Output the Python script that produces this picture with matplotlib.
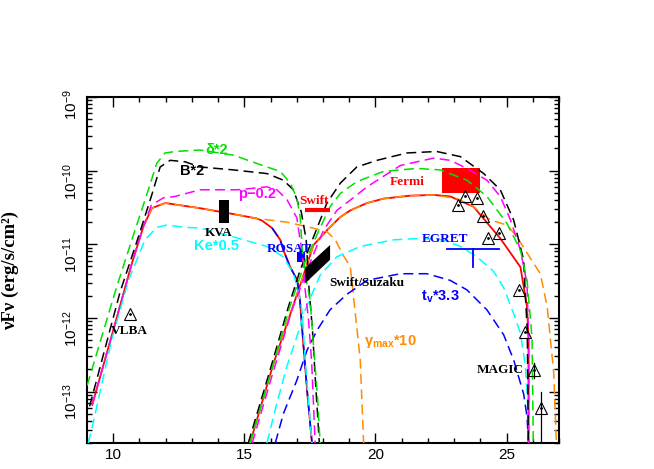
import matplotlib.pyplot as plt
from matplotlib.ticker import MultipleLocator, FixedLocator, LogLocator, NullFormatter
from matplotlib.patches import Rectangle, Polygon

plt.rcParams['font.family'] = ['Liberation Sans', 'DejaVu Sans']
plt.rcParams['mathtext.fontset'] = 'custom'
plt.rcParams['mathtext.rm'] = 'Liberation Sans'
plt.rcParams['mathtext.bf'] = 'Liberation Sans:bold'

# model curves, (log nu, log nuFnu)
red_sync = [(9.20, -13.18), (10.00, -12.17), (10.71, -11.26), (11.15, -10.76), (11.47, -10.51),
            (11.98, -10.44), (13.31, -10.51), (14.58, -10.59), (15.48, -10.65), (15.68, -10.68),
            (16.06, -10.78), (16.37, -10.94), (16.49, -11.08), (16.75, -11.31), (17.02, -11.49),
            (17.12, -11.76), (17.26, -12.40), (17.41, -13.05), (17.58, -13.70)]
red_ssc = [(15.22, -13.70), (16.11, -12.62), (17.19, -11.49), (17.64, -11.01), (18.15, -10.81),
           (18.66, -10.63), (19.04, -10.54), (19.68, -10.44), (20.31, -10.38), (21.33, -10.34),
           (22.22, -10.33), (22.85, -10.35), (23.74, -10.49), (24.76, -10.92), (25.53, -11.31),
           (25.78, -11.85), (25.84, -12.30), (25.84, -13.70)]

orange_sync = red_sync[:9] + [(16.62, -10.70), (17.51, -10.77), (18.15, -10.83), (18.47, -10.94),
                              (18.77, -11.15), (19.04, -11.30), (19.16, -11.70), (19.42, -12.57),
                              (19.55, -13.70)]
orange_ssc = red_ssc[:11] + [(23.11, -10.38), (23.73, -10.49), (24.38, -10.67), (25.02, -10.74),
                             (25.40, -10.90), (25.91, -11.19), (26.29, -11.40), (26.55, -11.85),
                             (26.80, -12.75), (26.90, -13.70)]

blue_sync = red_sync[10:]
blue_ssc = [(16.18, -13.70), (16.49, -13.30), (17.00, -12.85), (17.39, -12.44), (17.77, -12.17),
            (18.27, -11.89), (18.91, -11.68), (19.68, -11.49), (20.95, -11.40), (21.96, -11.40),
            (22.85, -11.49), (23.49, -11.62), (24.25, -11.89), (24.89, -12.23), (25.27, -12.57),
            (25.65, -13.03), (25.78, -13.34), (25.84, -13.70)]

cyan_sync = [(9.05, -13.70), (9.20, -13.48), (9.94, -12.30), (10.58, -11.49), (11.21, -10.94),
             (11.66, -10.77), (12.04, -10.74), (12.74, -10.77), (13.31, -10.78), (14.58, -10.90),
             (15.86, -11.03), (16.49, -11.17), (16.87, -11.40), (17.06, -11.62), (17.21, -11.93),
             (17.32, -12.57), (17.58, -13.70)]
cyan_ssc = [(15.86, -13.70), (16.24, -13.16), (16.62, -12.66), (17.00, -12.26), (17.32, -11.89),
            (17.89, -11.42), (18.53, -11.17), (19.42, -11.03), (20.69, -10.94), (21.71, -10.92),
            (22.60, -10.94), (23.24, -11.03), (23.87, -11.17), (24.51, -11.37), (24.89, -11.59),
            (25.27, -11.94), (25.53, -12.21), (25.72, -12.66), (25.81, -13.21), (25.84, -13.70)]

magenta_sync = red_sync[:4] + [(11.45, -10.47), (11.91, -10.37), (12.36, -10.35), (13.31, -10.26),
                               (14.76, -10.26), (15.86, -10.22), (16.24, -10.26), (16.62, -10.39),
                               (17.00, -10.64), (17.19, -11.08), (17.32, -11.62), (17.45, -12.03),
                               (17.57, -12.61), (17.70, -13.70)]
magenta_ssc = [(15.30, -13.70), (16.06, -12.78), (16.82, -11.89), (17.32, -11.42), (17.70, -11.08),
               (18.02, -10.81), (18.53, -10.54), (19.04, -10.40), (19.68, -10.22), (20.95, -9.93),
               (22.22, -9.83), (22.85, -9.86), (23.49, -9.97), (24.25, -10.13), (24.76, -10.35),
               (25.15, -10.67), (25.53, -11.08), (25.78, -11.53), (25.84, -12.30), (25.84, -13.70)]

black_sync = [(9.10, -13.20), (9.43, -12.76), (10.26, -11.65), (10.96, -10.90), (11.47, -10.33),
              (11.79, -9.95), (12.17, -9.86), (12.74, -9.88), (13.31, -9.95), (14.58, -9.99),
              (15.86, -10.04), (16.49, -10.13), (16.87, -10.26), (17.17, -10.56), (17.36, -10.94),
              (17.47, -11.62), (17.60, -12.17), (17.71, -12.85), (17.86, -13.70)]
black_ssc = [(15.15, -13.70), (15.98, -12.71), (16.68, -11.85), (17.13, -11.35), (17.64, -10.90),
             (18.15, -10.44), (18.66, -10.17), (19.29, -9.95), (20.06, -9.86), (21.20, -9.76),
             (22.34, -9.74), (23.24, -9.81), (24.13, -10.04), (24.76, -10.26), (25.27, -10.67),
             (25.65, -11.21), (25.72, -11.71), (25.79, -12.17), (25.83, -13.70)]

green_sync = [(9.00, -12.92), (9.18, -12.71), (10.13, -11.58), (10.83, -10.81), (11.34, -10.26),
              (11.66, -9.90), (11.98, -9.76), (12.36, -9.74), (13.31, -9.72), (14.58, -9.79),
              (15.86, -9.95), (16.37, -10.01), (16.75, -10.17), (17.00, -10.37), (17.13, -10.63),
              (17.21, -11.08), (17.36, -11.49), (17.51, -11.76), (17.64, -12.39), (17.79, -13.07),
              (17.89, -13.70)]
green_ssc = [(15.22, -13.70), (15.98, -12.78), (16.75, -11.83), (17.32, -11.24), (17.82, -10.83),
             (18.27, -10.49), (18.66, -10.31), (19.29, -10.15), (20.31, -10.01), (21.58, -9.97),
             (22.47, -9.99), (23.49, -10.13), (24.25, -10.35), (25.02, -10.72), (25.53, -11.08),
             (25.78, -11.49), (25.97, -12.26), (26.02, -13.70)]

# observations
tri_x = [10.64, 23.16, 23.43, 23.89, 24.10, 24.31, 24.71, 25.46, 25.72, 26.06, 26.31]
tri_y = [-11.95, -10.46, -10.34, -10.37, -10.62, -10.92, -10.85, -11.62, -12.19, -12.71, -13.23]
kva_box = (14.05, 14.42, -10.40, -10.71)
rosat_box = (17.00, 17.30, -11.10, -11.24)
fermi_box = (22.54, 24.00, -9.96, -10.31)
swift_bar = (17.32, 18.27, -10.53)
suzaku_poly = [(17.32, -11.32), (18.27, -11.01), (18.27, -11.21), (17.32, -11.53)]
egret_x = (22.73, 24.70)
egret_y = -11.06
egret_stem = (23.72, -11.06, -11.31)


def lin(v):
    return 10.0 ** v


def draw(ax, pts, color, ls):
    xs = [p[0] for p in pts]
    ys = [lin(p[1]) for p in pts]
    if ls == 'solid':
        ax.plot(xs, ys, color=color, lw=1.3, zorder=3)
    else:
        ax.plot(xs, ys, color=color, lw=1.1, ls=(0, (6.5, 3.5)), zorder=4)


fig = plt.figure(figsize=(6.54, 4.69), dpi=100)
ax = fig.add_axes([87 / 654, 26 / 469, 472 / 654, 346 / 469])
ax.set_yscale('log')

# data boxes under the curves
ax.add_patch(Rectangle((fermi_box[0], lin(fermi_box[3])), fermi_box[1] - fermi_box[0],
                       lin(fermi_box[2]) - lin(fermi_box[3]), color='red', lw=0, zorder=2))
ax.add_patch(Rectangle((rosat_box[0], lin(rosat_box[3])), rosat_box[1] - rosat_box[0],
                       lin(rosat_box[2]) - lin(rosat_box[3]), color='blue', lw=0, zorder=3.5))

draw(ax, red_sync, 'red', 'solid')
draw(ax, red_ssc, 'red', 'solid')
for sync, ssc, col in [(orange_sync, orange_ssc, '#ff8c00'), (blue_sync, blue_ssc, 'blue'),
                       (cyan_sync, cyan_ssc, 'cyan'), (magenta_sync, magenta_ssc, 'magenta'),
                       (black_sync, black_ssc, 'black'), (green_sync, green_ssc, '#00e000')]:
    draw(ax, sync, col, 'dashed')
    draw(ax, ssc, col, 'dashed')

ax.add_patch(Rectangle((kva_box[0], lin(kva_box[3])), kva_box[1] - kva_box[0],
                       lin(kva_box[2]) - lin(kva_box[3]), color='black', lw=0, zorder=5))
ax.add_patch(Polygon([(x, lin(y)) for x, y in suzaku_poly], closed=True, color='black', lw=0, zorder=5))
ax.plot(swift_bar[:2], [lin(swift_bar[2])] * 2, color='red', lw=3, solid_capstyle='butt', zorder=5)
ax.plot(egret_x, [lin(egret_y)] * 2, color='blue', lw=1.3, zorder=5)
ax.plot([egret_stem[0]] * 2, [lin(egret_stem[1]), lin(egret_stem[2])], color='blue', lw=1.3, zorder=5)

ax.plot(tri_x, [lin(v) for v in tri_y], ls='none', marker='^', ms=8, mfc='none', mec='black',
        mew=0.8, zorder=6)
ax.plot(tri_x, [lin(v) for v in tri_y], ls='none', marker='o', ms=1, color='black', zorder=6)
ax.plot([26.06, 26.06], [lin(-12.61), lin(-12.82)], color='black', lw=0.9, zorder=6)
ax.plot([26.31, 26.31], [lin(-13.00), lin(-13.75)], color='black', lw=0.9, zorder=6)

serif = dict(family='Liberation Serif', weight='bold', fontsize=9.5, ha='center', va='center', zorder=7)
ax.text(14.0, lin(-10.85), 'KVA', color='black', **serif)
ax.text(16.72, lin(-11.06), 'ROSAT', color='blue', **serif)
ax.text(17.65, lin(-10.41), 'Swift', color='red', **serif)
ax.text(19.67, lin(-11.53), 'Swift/Suzaku', color='black', **serif)
ax.text(21.2, lin(-10.15), 'Fermi', color='red', **serif)
ax.text(22.65, lin(-10.93), 'EGRET', color='blue', **serif)
ax.text(10.6, lin(-12.18), 'VLBA', color='black', **serif)
ax.text(24.76, lin(-12.71), 'MAGIC', color='black', **serif)

sans = dict(weight='bold', fontsize=10.5, ha='center', va='center', zorder=7)
ax.text(13.95, lin(-9.72), 'δ*2', color='#00e000', **sans)
ax.text(13.0, lin(-10.0), 'B*2', color='black', **sans)
ax.text(15.48, lin(-10.32), 'p−0.2', color='magenta', **sans)
ax.text(13.95, lin(-11.02), 'Ke*0.5', color='cyan', **sans)
ax.text(22.47, lin(-11.71), r't$_\mathbf{v}$*3.3', color='blue', **sans)
ax.text(20.56, lin(-12.32), r'γ$_\mathbf{max}$*10', color='#ff8c00', **sans)

ax.set_xlim(9, 27)
ax.set_ylim(2e-14, 1e-9)
ax.xaxis.set_major_locator(MultipleLocator(5))
ax.xaxis.set_minor_locator(MultipleLocator(1))
ax.yaxis.set_major_locator(FixedLocator([1e-13, 1e-12, 1e-11, 1e-10, 1e-9]))
ax.yaxis.set_minor_locator(LogLocator(base=10, subs=range(2, 10)))
ax.yaxis.set_minor_formatter(NullFormatter())
ax.tick_params(which='both', direction='in', top=True, right=True, width=1, labelsize=11)
ax.tick_params(which='major', length=7)
ax.tick_params(which='minor', length=3.5)
ax.tick_params(axis='y', labelrotation=90, pad=5)
for s in ax.spines.values():
    s.set_linewidth(1.5)

ax.set_ylabel('νFν (erg/s/cm²)', family='Liberation Serif', weight='bold', fontsize=13.5)
ax.yaxis.set_label_coords(-0.145, 0.5)

fig.savefig('out.png', dpi=100)
